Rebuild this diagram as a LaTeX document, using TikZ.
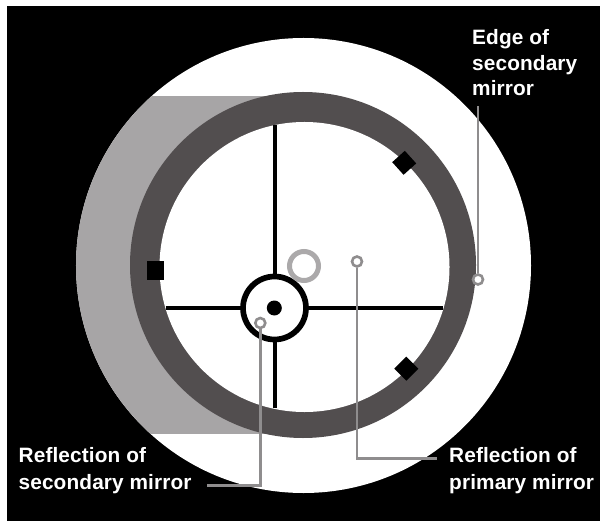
\documentclass[tikz,border=0pt]{standalone}
\usepackage{fontspec}
\setmainfont[LetterSpace=0.6]{Liberation Sans}
\definecolor{ringc}{HTML}{524E4F}
\definecolor{shadec}{HTML}{A7A5A6}
\definecolor{leadc}{HTML}{8F8D8E}
\definecolor{spotc}{HTML}{ABA9AA}
\tikzset{
  lbl/.style={text=white,font=\fontsize{20.8bp}{26bp}\selectfont\bfseries,align=left,inner sep=0pt,anchor=base west},
  tagdot/.style={circle,draw=leadc,fill=white,line width=2.6bp,minimum size=10bp,inner sep=0pt},
  leader/.style={draw=leadc,line width=2.5bp},
  cross/.style={line width=4.3bp,black}
}
\begin{document}
\begin{tikzpicture}[x=1bp,y=-1bp]
\useasboundingbox (0,0) rectangle (600,521);
\fill[white] (0,0) rectangle (600,521);
\fill[black] (7,6) rectangle (600,521);
\fill[white] (303.5,265.5) circle[radius=227.5bp];
\begin{scope}
  \clip (303.5,265.5) circle[radius=227.5bp];
  \fill[shadec] (70,96) rectangle (303,434);
\end{scope}
\fill[ringc] (303,265) circle[radius=173bp];
\fill[white] (304.5,267) circle[radius=145bp];
% crosshair
\coordinate (ct) at (274.7,125);
\coordinate (cb) at (274.7,408);
\coordinate (cl) at (165.5,308);
\coordinate (cr) at (443,308);
\draw[cross] (ct) -- (cb);
\draw[cross] (cl) -- (cr);
\node[circle,draw=black,fill=white,line width=5.7bp,minimum size=63bp,inner sep=0pt] (sec) at (274.5,308) {};
\node[circle,fill=black,minimum size=15bp,inner sep=0pt] (dot) at (274.3,308) {};
\node[circle,draw=spotc,line width=5bp,minimum size=29bp,inner sep=0pt] (spot) at (304,266) {};
% clips
\node[rectangle,fill=black,minimum width=17bp,minimum height=18.7bp,inner sep=0pt] (clipA) at (155.5,270.3) {};
\node[rectangle,fill=black,minimum size=17bp,inner sep=0pt,rotate=42] (clipB) at (404.2,162.8) {};
\node[rectangle,fill=black,minimum size=17bp,inner sep=0pt,rotate=45] (clipC) at (406.3,368.7) {};
% leaders
\node[tagdot] (t1) at (260.3,323) {};
\node[tagdot] (t2) at (357,261.5) {};
\node[tagdot] (t3) at (478,279.5) {};
\coordinate (e1) at (207,485.7);
\coordinate (e2) at (437,458.5);
\coordinate (e3) at (478,106);
\draw[leader] (t1) |- (e1);
\draw[leader] (t2) |- (e2);
\draw[leader] (t3) -- (e3);
% labels
\node[lbl] (l3a) at (472,45) {Edge of};
\node[lbl] (l3b) at (472,70.5) {secondary};
\node[lbl] (l3c) at (472,96) {mirror};
\node[lbl] (l1a) at (18.5,462.3) {Reflection of};
\node[lbl] (l1b) at (18.5,489) {secondary mirror};
\node[lbl] (l2a) at (449,462.3) {Reflection of};
\node[lbl] (l2b) at (449,489) {primary mirror};
\end{tikzpicture}
\end{document}
